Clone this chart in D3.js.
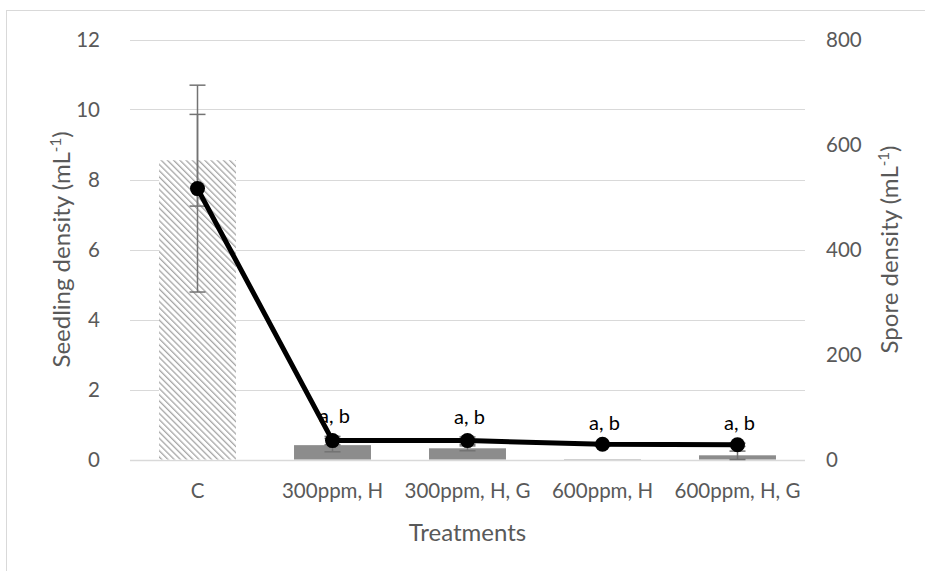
<!DOCTYPE html>
<html>
<head>
<meta charset="utf-8">
<script src="https://cdn.jsdelivr.net/npm/d3@7"></script>
<style>
  html, body { margin: 0; padding: 0; background: #fff; }
  svg { display: block; font-family: Lato, "Open Sans", sans-serif; }
</style>
</head>
<body>
<svg id="chart" width="925" height="571"></svg>
<script>
// Treatments on the x axis
const categories = ["C", "300ppm, H", "300ppm, H, G", "600ppm, H", "600ppm, H, G"];
// Seedling density (bars, left axis) and its error
const seedling = [8.55, 0.41, 0.32, 0.01, 0.12];
const seedlingErr = [1.31, 0.19, 0.07, 0.0, 0.12];
// Spore density (line, right axis) and its error
const spore = [516, 36, 36, 29, 28];
const sporeErr = [197, 8, 7, 3, 3];
// Significance letters above the line points
const pointLabels = ["", "a, b", "a, b", "a, b", "a, b"];
const leftTicks = [0, 2, 4, 6, 8, 10, 12];
const rightTicks = [0, 200, 400, 600, 800];

const FONT = "Lato, 'Open Sans', sans-serif";
const svg = d3.select("#chart");

// outer chart frame
svg.append("rect")
  .attr("x", 6.5).attr("y", 10.5)
  .attr("width", 940).attr("height", 580)
  .attr("fill", "none").attr("stroke", "#d9d9d9").attr("stroke-width", 1);

const plot = { left: 130, right: 805, top: 39.5, bottom: 459.5 };

const x = d3.scaleBand().domain(categories)
  .range([plot.left, plot.right]).paddingInner(0.43).paddingOuter(0.215);
const yL = d3.scaleLinear().domain([0, 12]).range([plot.bottom, plot.top]);
const yR = d3.scaleLinear().domain([0, 800]).range([plot.bottom, plot.top]);
const cx = d => x(d) + x.bandwidth() / 2;

// downward diagonal hatch for the control bar
const defs = svg.append("defs");
const pat = defs.append("pattern")
  .attr("id", "hatch").attr("patternUnits", "userSpaceOnUse")
  .attr("width", 4.4).attr("height", 4.4)
  .attr("patternTransform", "rotate(-45)");
pat.append("rect").attr("width", 4.4).attr("height", 4.4).attr("fill", "#ffffff");
pat.append("line").attr("x1", 0).attr("y1", 0).attr("x2", 0).attr("y2", 4.4)
  .attr("stroke", "#a6a6a6").attr("stroke-width", 2.6);

// gridlines
svg.append("g")
  .selectAll("line").data(leftTicks).join("line")
  .attr("x1", plot.left).attr("x2", plot.right)
  .attr("y1", d => Math.round(yL(d)) + 0.5).attr("y2", d => Math.round(yL(d)) + 0.5)
  .attr("stroke", "#d9d9d9").attr("stroke-width", d => d === 0 ? 1.5 : 1);

const styleTicks = g => g.call(s => s.select(".domain").remove())
  .call(s => s.selectAll("text").attr("fill", "#595959").attr("font-size", 20.5)
    .attr("font-family", FONT));

// left axis labels
svg.append("g").attr("transform", `translate(${plot.left - 30},0)`)
  .call(d3.axisLeft(yL).tickValues(leftTicks).tickSize(0).tickPadding(0))
  .call(styleTicks);

// right axis labels
svg.append("g").attr("transform", `translate(${plot.right + 21},0)`)
  .call(d3.axisRight(yR).tickValues(rightTicks).tickSize(0).tickPadding(0))
  .call(styleTicks);

// category labels
svg.append("g").attr("transform", `translate(0,${plot.bottom + 24})`)
  .call(d3.axisBottom(x).tickSize(0).tickPadding(0))
  .call(styleTicks);

// bars
svg.append("g").selectAll("rect").data(categories).join("rect")
  .attr("x", d => x(d))
  .attr("width", x.bandwidth())
  .attr("y", (d, i) => yL(seedling[i]))
  .attr("height", (d, i) => yL(0) - yL(seedling[i]))
  .attr("fill", (d, i) => i === 0 ? "url(#hatch)" : "#8c8c8c");

// error bars with caps
function errorBars(vals, errs, scale) {
  const g = svg.append("g").attr("stroke", "#737373").attr("stroke-width", 1.5);
  categories.forEach((c, i) => {
    if (errs[i] <= 0) return;
    const xc = cx(c);
    const y1 = scale(vals[i] + errs[i]);
    const y0 = scale(Math.max(0, vals[i] - errs[i]));
    g.append("line").attr("x1", xc).attr("x2", xc).attr("y1", y1).attr("y2", y0);
    [y1, y0].forEach(yy => g.append("line")
      .attr("x1", xc - 8).attr("x2", xc + 8).attr("y1", yy).attr("y2", yy));
  });
}
errorBars(seedling, seedlingErr, yL);
errorBars(spore, sporeErr, yR);

// spore line with markers
const line = d3.line().x((d, i) => cx(categories[i])).y(d => yR(d));
svg.append("path").datum(spore)
  .attr("d", line).attr("fill", "none")
  .attr("stroke", "#000").attr("stroke-width", 5).attr("stroke-linejoin", "round");
svg.append("g").selectAll("circle").data(spore).join("circle")
  .attr("cx", (d, i) => cx(categories[i])).attr("cy", d => yR(d))
  .attr("r", 7.5).attr("fill", "#000");

// significance letters above each point's error bar
svg.append("g").selectAll("text").data(spore).join("text")
  .attr("x", (d, i) => cx(categories[i]) + 2)
  .attr("y", (d, i) => yR(d + sporeErr[i]) - 13)
  .attr("text-anchor", "middle")
  .attr("font-size", 20).attr("fill", "#000").attr("font-family", FONT)
  .text((d, i) => pointLabels[i]);

// axis titles
function title(textMain, tx, ty, rotate) {
  const t = svg.append("text")
    .attr("transform", `translate(${tx},${ty})` + (rotate ? " rotate(-90)" : ""))
    .attr("text-anchor", "middle").attr("fill", "#595959")
    .attr("font-size", 24).attr("font-family", FONT);
  t.append("tspan").text(textMain);
  return t;
}
const mid = (plot.top + plot.bottom) / 2;
const lt = title("Seedling density (mL", 70, mid, true);
lt.append("tspan").attr("dy", -9).attr("font-size", 15).text("-1");
lt.append("tspan").attr("dy", 9).text(")");

const rt = title("Spore density (mL", 898, mid, true);
rt.append("tspan").attr("dy", -9).attr("font-size", 15).text("-1");
rt.append("tspan").attr("dy", 9).text(")");

title("Treatments", (plot.left + plot.right) / 2, 541, false);
</script>
</body>
</html>
